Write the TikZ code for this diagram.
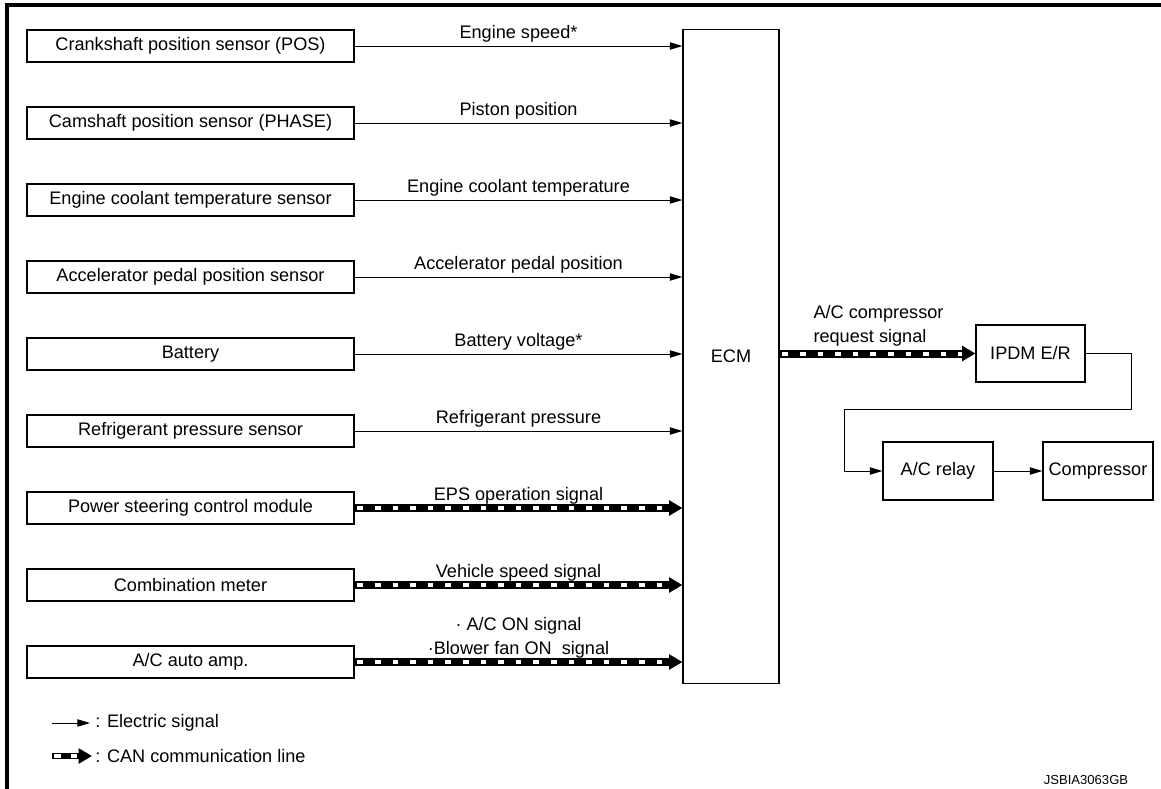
\documentclass[tikz,border=0pt]{standalone}
\usepackage{fontspec}
\setmainfont{Liberation Sans}
\usetikzlibrary{arrows.meta}
\begin{document}
\begin{tikzpicture}[x=0.75pt,y=-0.75pt,
  font=\fontsize{13.6}{16}\selectfont,
  box/.style={draw, line width=0.8pt, inner sep=0pt},
  src/.style={box, minimum width=245.25pt, minimum height=24pt},
  elec/.style={line width=0.75pt, -{Triangle[length=9.5pt,width=5.5pt]}},
  can/.style={line width=6pt, -{Triangle[length=10pt,width=11pt]},
    postaction={draw=white, line width=3pt, arrows=-, shorten >=10pt,
      dash pattern=on 4.2pt off 9pt, dash phase=11pt}},
  lab/.style={midway, anchor=base, yshift=5.5pt, inner sep=0pt},
  frame/.style={line width=2.4pt}]
\useasboundingbox (0,0) rectangle (1161,789);
% frame
\coordinate (f1) at (7,789);
\coordinate (f2) at (7,5);
\coordinate (f3) at (1161,5);
\draw[frame] (f1) -- (f2) -- (f3);
% ECM
\node[box, minimum width=72pt, minimum height=490pt] (ecm) at (731,356.5) {ECM};
% sources
\node[src] (s1) at (190.5,46) {Crankshaft position sensor (POS)};
\node[src] (s2) at (190.5,123) {Camshaft position sensor (PHASE)};
\node[src] (s3) at (190.5,200) {Engine coolant temperature sensor};
\node[src] (s4) at (190.5,277) {Accelerator pedal position sensor};
\node[src] (s5) at (190.5,354) {Battery};
\node[src] (s6) at (190.5,431) {Refrigerant pressure sensor};
\node[src] (s7) at (190.5,508) {Power steering control module};
\node[src] (s8) at (190.5,585) {Combination meter};
\node[src] (s9) at (190.5,662) {A/C auto amp.};
% signals
\draw[elec] (s1.east) -- (ecm.west |- s1.east) node[lab] {Engine speed*};
\draw[elec] (s2.east) -- (ecm.west |- s2.east) node[lab] {Piston position};
\draw[elec] (s3.east) -- (ecm.west |- s3.east) node[lab] {Engine coolant temperature};
\draw[elec] (s4.east) -- (ecm.west |- s4.east) node[lab] {Accelerator pedal position};
\draw[elec] (s5.east) -- (ecm.west |- s5.east) node[lab] {Battery voltage*};
\draw[elec] (s6.east) -- (ecm.west |- s6.east) node[lab] {Refrigerant pressure};
\draw[can] (s7.east) -- (ecm.west |- s7.east) node[lab] {EPS operation signal};
\draw[can] (s8.east) -- (ecm.west |- s8.east) node[lab] {Vehicle speed signal};
\draw[can] (s9.east) -- (ecm.west |- s9.east)
  node[lab] {\textperiodcentered Blower fan ON~ signal}
  node[lab, yshift=18pt] {\textperiodcentered\ A/C ON signal};
% right side
\node[box, minimum width=81.75pt, minimum height=42.75pt] (ipdm) at (1030.5,353.5) {IPDM E/R};
\node[box, minimum width=82.5pt, minimum height=43.5pt] (relay) at (938,471) {A/C relay};
\node[box, minimum width=82.5pt, minimum height=43.5pt] (comp) at (1098,471) {Compressor};
\draw[can] (ecm.east |- ipdm.west) -- (ipdm.west)
  node[pos=0, anchor=base west, xshift=22.5pt, yshift=8pt, inner sep=0pt] {request signal}
  node[pos=0, anchor=base west, xshift=22.5pt, yshift=26pt, inner sep=0pt] {A/C compressor};
\coordinate (t1) at (1131,409);
\coordinate (t2) at (844,409);
\draw[elec] (ipdm.east) -| (t1) -- (t2) |- (relay.west);
\draw[elec] (relay.east) -- (comp.west);
% legend
\coordinate (l1a) at (52,723);
\coordinate (l1b) at (90,723);
\draw[elec] (l1a) -- (l1b);
\node[anchor=west, inner sep=0pt] (l1t) at (95,723) {: Electric signal};
\coordinate (l2a) at (52,756);
\coordinate (l2b) at (92,756);
\draw[line width=5pt, -{Triangle[length=10pt,width=11pt]}] (l2a) -- (l2b);
\coordinate (w1a) at (53.5,756);
\coordinate (w1b) at (61,756);
\coordinate (w2a) at (71,756);
\coordinate (w2b) at (77,756);
\draw[white, line width=2.4pt] (w1a) -- (w1b) (w2a) -- (w2b);
\node[anchor=west, inner sep=0pt] (l2t) at (95,756) {: CAN communication line};
% code
\node[font=\fontsize{9.8}{12}\selectfont, inner sep=0pt] (code) at (1086,780) {JSBIA3063GB};
\end{tikzpicture}
\end{document}
